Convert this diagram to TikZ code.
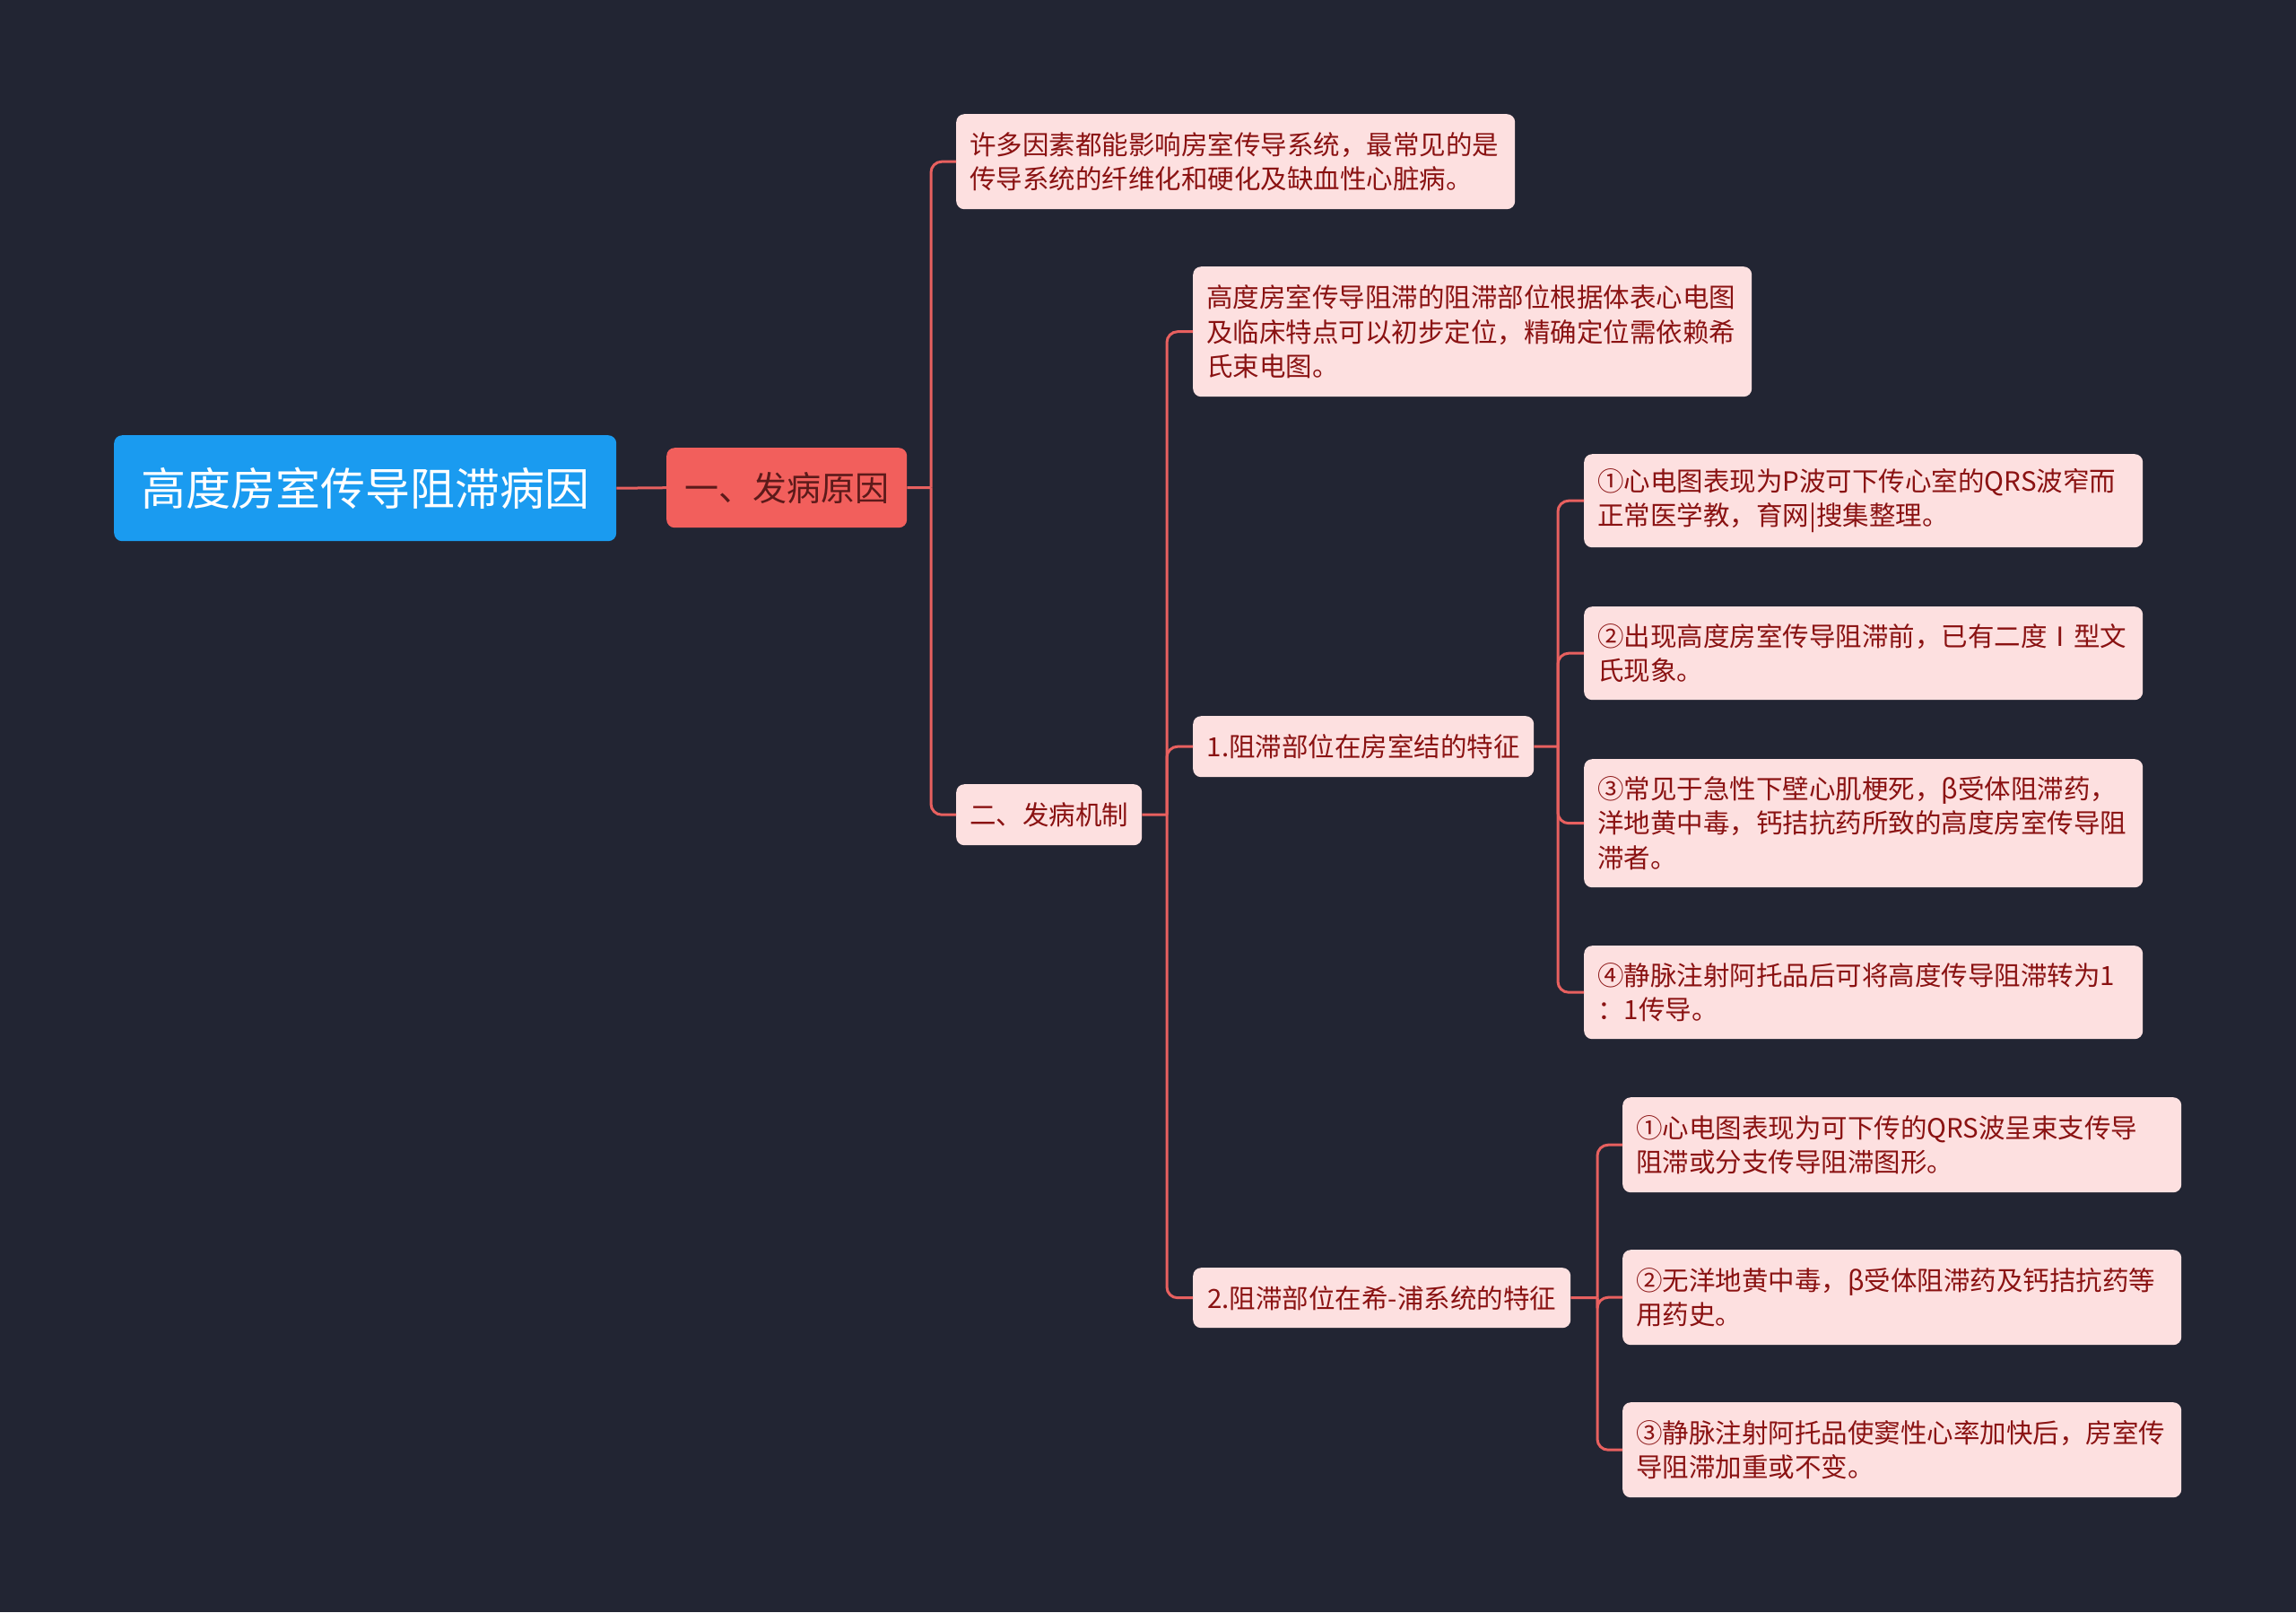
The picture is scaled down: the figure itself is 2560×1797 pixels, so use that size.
\documentclass[tikz,border=0pt]{standalone}
\usepackage{fontspec}
\setmainfont{Noto Sans CJK SC}
\definecolor{bgc}{HTML}{222533}
\definecolor{linec}{HTML}{E8605F}
\definecolor{pinkc}{HTML}{FDE0E0}
\definecolor{txtc}{HTML}{8A1212}
\definecolor{rootc}{HTML}{1A9BF0}
\definecolor{lvlone}{HTML}{F25F5C}
\definecolor{lvlonetxt}{HTML}{5C1A1A}
\newcommand\nodefont{\fontsize{29.5}{38.5}\selectfont}
\tikzset{
  conn/.style={draw=linec, line width=3pt},
  bx/.style={anchor=north west, rounded corners=9pt, inner xsep=15pt, inner ysep=0pt, align=left},
  pinkbox/.style={bx, fill=pinkc, text=txtc, font=\nodefont},
}
\begin{document}
\begin{tikzpicture}[x=1pt,y=-1pt]
\useasboundingbox (0,0) rectangle (2560,1797);
\fill[bgc] (0,0) rectangle (2560,1797);

% nodes
\node[bx, fill=rootc, text=white, font=\fontsize{50}{60}\selectfont, minimum width=560pt, minimum height=118pt, align=center] (root) at (127,485) {高度房室传导阻滞病因};
\node[bx, fill=lvlone, text=lvlonetxt, font=\fontsize{38}{46}\selectfont, minimum width=268pt, minimum height=89pt, align=center] (n1) at (743,499) {一、发病原因};
\node[pinkbox, text width=593pt, minimum height=106pt] (a1) at (1066,127) {许多因素都能影响房室传导系统，最常见的是\\传导系统的纤维化和硬化及缺血性心脏病。};
\node[pinkbox, minimum width=207pt, minimum height=68pt, align=center] (n2) at (1066,874) {二、发病机制};
\node[pinkbox, text width=593pt, minimum height=145pt] (b1) at (1330,297) {高度房室传导阻滞的阻滞部位根据体表心电图\\及临床特点可以初步定位，精确定位需依赖希\\氏束电图。};
\node[pinkbox, minimum width=380pt, minimum height=68pt, align=center] (b2) at (1330,798) {1.阻滞部位在房室结的特征};
\node[pinkbox, minimum width=421pt, minimum height=67pt, align=center] (b3) at (1330,1413) {2.阻滞部位在希-浦系统的特征};
\node[pinkbox, text width=593pt, minimum height=104pt] (c1) at (1766,506) {①心电图表现为P波可下传心室的QRS波窄而\\正常医学教，育网|搜集整理。};
\node[pinkbox, text width=593pt, minimum height=104pt] (c2) at (1766,676) {②出现高度房室传导阻滞前，已有二度Ⅰ型文\\氏现象。};
\node[pinkbox, text width=593pt, minimum height=143pt] (c3) at (1766,846) {③常见于急性下壁心肌梗死，β受体阻滞药，\\洋地黄中毒，钙拮抗药所致的高度房室传导阻\\滞者。};
\node[pinkbox, text width=593pt, minimum height=104pt] (c4) at (1766,1054) {④静脉注射阿托品后可将高度传导阻滞转为1\\：1传导。};
\node[pinkbox, text width=593pt, minimum height=106pt] (d1) at (1809,1223) {①心电图表现为可下传的QRS波呈束支传导\\阻滞或分支传导阻滞图形。};
\node[pinkbox, text width=593pt, minimum height=106pt] (d2) at (1809,1393) {②无洋地黄中毒，β受体阻滞药及钙拮抗药等\\用药史。};
\node[pinkbox, text width=593pt, minimum height=106pt] (d3) at (1809,1563) {③静脉注射阿托品使窦性心率加快后，房室传\\导阻滞加重或不变。};

% junctions
\coordinate (jA) at (1038,543.5);
\coordinate (jB) at (1301,908);
\coordinate (jC) at (1737,832);
\coordinate (jD) at (1781,1446.5);

% connectors
\begin{scope}[on background layer/.style={}]
\draw[conn] (root.east) -- (n1.west);
\draw[conn] (n1.east) -- (jA);
\draw[conn, rounded corners=12pt] (jA) |- (a1.west);
\draw[conn, rounded corners=12pt] (jA) |- (n2.west);
\draw[conn] (n2.east) -- (jB);
\draw[conn, rounded corners=12pt] (jB) |- (b1.west);
\draw[conn, rounded corners=12pt] (jB) |- (b2.west);
\draw[conn, rounded corners=12pt] (jB) |- (b3.west);
\draw[conn] (b2.east) -- (jC);
\draw[conn, rounded corners=12pt] (jC) |- (c1.west);
\draw[conn, rounded corners=12pt] (jC) |- (c2.west);
\draw[conn, rounded corners=12pt] (jC) |- (c3.west);
\draw[conn, rounded corners=12pt] (jC) |- (c4.west);
\draw[conn] (b3.east) -- (jD);
\draw[conn, rounded corners=12pt] (jD) |- (d1.west);
\draw[conn, rounded corners=12pt] (jD) |- (d2.west);
\draw[conn, rounded corners=12pt] (jD) |- (d3.west);
\end{scope}
\end{tikzpicture}
\end{document}
